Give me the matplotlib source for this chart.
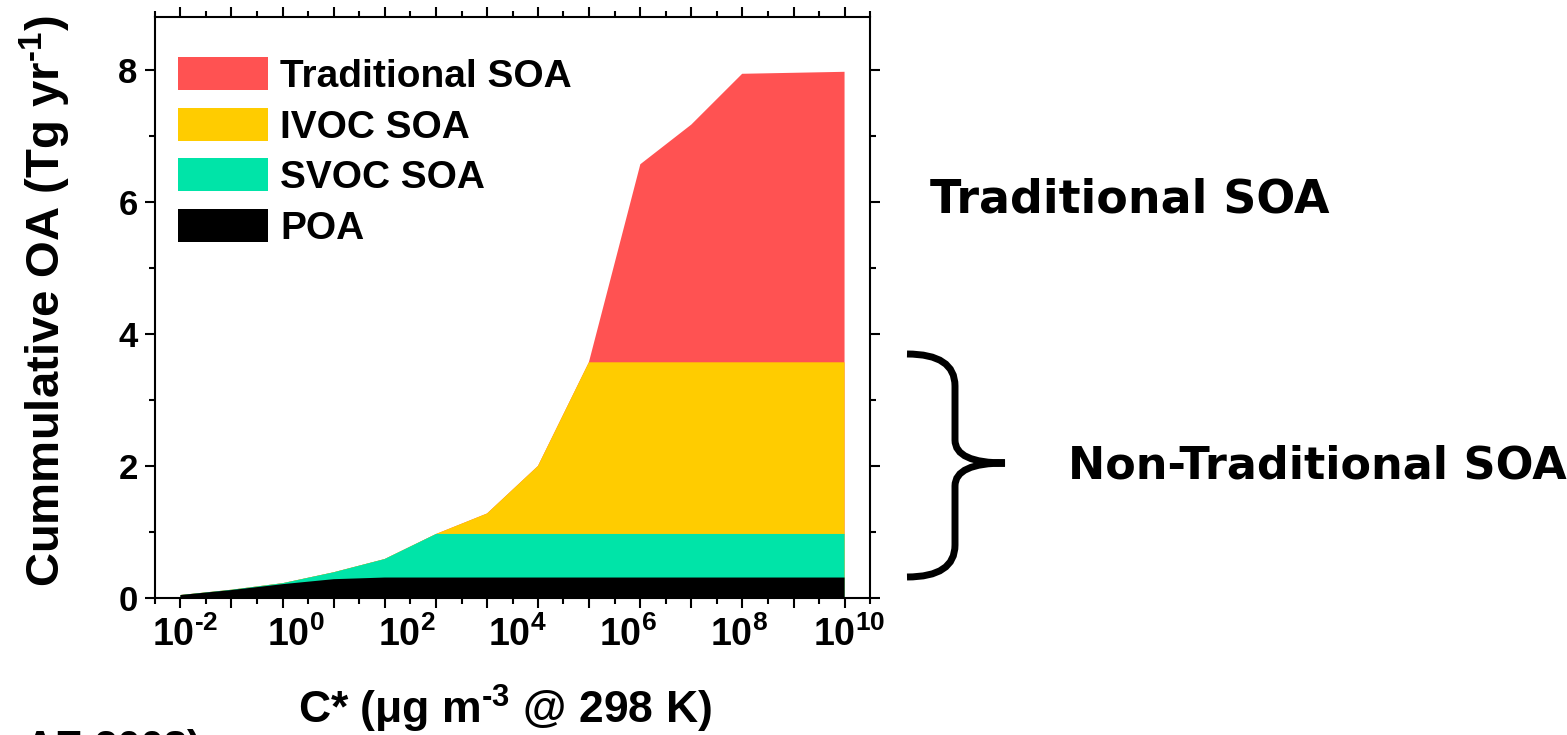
import numpy as np
import matplotlib
matplotlib.use('Agg')
import matplotlib.pyplot as plt
import matplotlib.transforms as mtransforms
from matplotlib.patches import Patch, PathPatch
from matplotlib.path import Path
from matplotlib.ticker import FixedLocator, NullFormatter, MultipleLocator

plt.rcParams['font.family'] = 'Liberation Sans'
plt.rcParams['font.weight'] = 'bold'
plt.rcParams['axes.labelweight'] = 'bold'
plt.rcParams['mathtext.fontset'] = 'custom'
plt.rcParams['mathtext.rm'] = 'Liberation Sans:bold'
plt.rcParams['mathtext.bf'] = 'Liberation Sans:bold'
plt.rcParams['mathtext.it'] = 'Liberation Sans:bold:italic'
plt.rcParams['mathtext.default'] = 'bf'

# volatility bins, log10 of C* (ug m-3 at 298 K)
log_cstar = np.array([-2.00, -1.08, -0.15, 0.77, 1.69, 2.62, 3.54,
                      4.46, 5.38, 6.31, 7.23, 8.15, 9.08, 10.00])
cstar = 10.0 ** log_cstar

# cumulative OA (Tg/yr), each curve is the running total up to that class
poa_cum = [0.045, 0.12, 0.21, 0.285, 0.31, 0.31, 0.31,
           0.31, 0.31, 0.31, 0.31, 0.31, 0.31, 0.31]
svoc_cum = [0.045, 0.125, 0.225, 0.39, 0.59, 0.97, 0.97,
            0.97, 0.97, 0.97, 0.97, 0.97, 0.97, 0.97]
ivoc_cum = [0.045, 0.125, 0.225, 0.39, 0.59, 0.97, 1.28,
            2.00, 3.57, 3.57, 3.57, 3.57, 3.57, 3.57]
trad_cum = [0.045, 0.125, 0.225, 0.39, 0.59, 0.97, 1.28,
            2.00, 3.57, 6.57, 7.17, 7.94, 7.955, 7.97]

classes = ['Traditional SOA', 'IVOC SOA', 'SVOC SOA', 'POA']
class_colors = ['#ff5252', '#ffcc00', '#00e4a8', '#000000']
curves = [trad_cum, ivoc_cum, svoc_cum, poa_cum]

label_powers = [-2, 0, 2, 4, 6, 8, 10]

W, H = 1567, 735
fig = plt.figure(figsize=(W / 100, H / 100), dpi=100)
ax = fig.add_axes([155 / W, 1 - 598 / H, 715 / W, 581 / H])

# paint from the top class down so each layer covers the one above it
for curve, col in zip(curves, class_colors):
    ax.fill_between(cstar, 0, curve, facecolor=col, edgecolor='none', linewidth=0)

ax.set_xscale('log')
half = (log_cstar[1] - log_cstar[0]) / 2
ax.set_xlim(10 ** (log_cstar[0] - half), 10 ** (log_cstar[-1] + half))
ax.set_ylim(0, 8.8)

mids = np.concatenate(([log_cstar[0] - half], (log_cstar[:-1] + log_cstar[1:]) / 2,
                       [log_cstar[-1] + half]))
ax.xaxis.set_major_locator(FixedLocator(cstar))
ax.xaxis.set_minor_locator(FixedLocator(10 ** mids))
ax.xaxis.set_major_formatter(NullFormatter())
ax.xaxis.set_minor_formatter(NullFormatter())
ax.set_yticks([0, 2, 4, 6, 8])
ax.yaxis.set_minor_locator(MultipleLocator(1))

for s in ax.spines.values():
    s.set_linewidth(1.5)
ax.tick_params(which='both', direction='out', top=True, right=True, width=1.5)
ax.tick_params(which='major', length=7.5)
ax.tick_params(which='minor', length=4)
ax.tick_params(axis='y', labelsize=25, pad=5)

# decade labels along the bottom
trans = ax.get_xaxis_transform() + mtransforms.ScaledTranslation(
    5 / 100, -18 / 100, fig.dpi_scale_trans)
for p in label_powers:
    ax.text(10.0 ** p, 0, r'$10^{\text{%d}}$' % p, transform=trans,
            ha='center', va='top', fontsize=27)

ax.set_xlabel(r'C* (μg m$^{\text{-3}}$ @ 298 K)', fontsize=32, fontweight='bold')
ax.xaxis.set_label_coords(0.49, -0.146)
ax.set_ylabel(r'Cummulative OA (Tg yr$^{\text{-1}}$)', fontsize=34, fontweight='bold')
ax.yaxis.set_label_coords(-0.115, 0.51)

handles = [Patch(facecolor=c, edgecolor='none', label=l)
           for l, c in zip(classes, class_colors)]
ax.legend(handles=handles, loc='upper left', bbox_to_anchor=(23 / 715, 1 - 40 / 581),
          frameon=False, fontsize=28, handlelength=2.31, handleheight=0.925,
          handletextpad=0.31, labelspacing=0.33, borderpad=0, borderaxespad=0)

# curly brace grouping the non-traditional classes
brace_px = [(907, 354), (955, 354), (955, 386), (955, 440), (955, 463), (1005, 463),
            (955, 463), (955, 486), (955, 545), (955, 577), (907, 577)]
brace_codes = [Path.MOVETO, Path.CURVE3, Path.CURVE3, Path.LINETO, Path.CURVE3,
               Path.CURVE3, Path.CURVE3, Path.CURVE3, Path.LINETO, Path.CURVE3,
               Path.CURVE3]
brace = Path([(x / W, 1 - y / H) for x, y in brace_px], brace_codes)
fig.patches.append(PathPatch(brace, transform=fig.transFigure, facecolor='none',
                             edgecolor='black', linewidth=5, capstyle='butt'))

fig.text(930 / W, 1 - 200 / H, 'Traditional SOA', family='DejaVu Sans',
         weight='bold', fontsize=33, ha='left', va='center')
fig.text(1068 / W, 1 - 466 / H, 'Non-Traditional SOA', family='DejaVu Sans',
         weight='bold', fontsize=32, ha='left', va='center')
fig.text(25 / W, 1 - 729 / H, 'AE 2008)', fontsize=30, ha='left', va='top')

fig.savefig('out.png', dpi=100)
